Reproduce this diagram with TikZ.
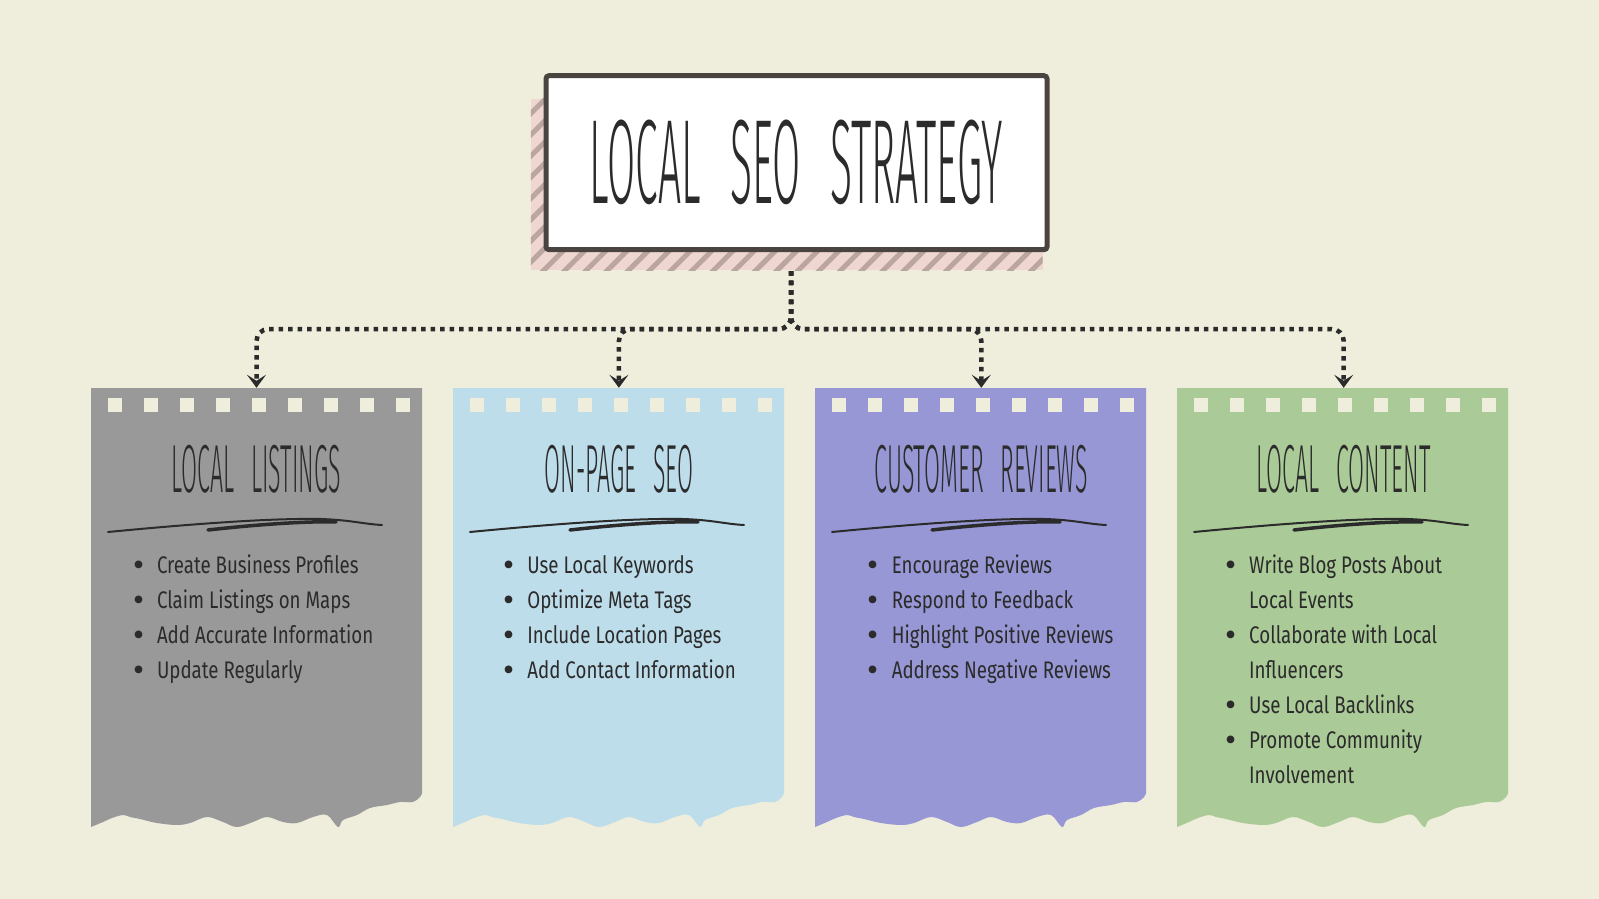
\documentclass[tikz,border=0pt]{standalone}
\usepackage{fontspec}
\setmainfont{Fira Sans}[FakeStretch=0.78]
\newfontfamily\headfont{Fira Sans}[UprightFont={* Light}, FakeStretch=0.34, WordSpace=2.6]
\newfontfamily\dotfont{Fira Sans}
\usepackage{tikz}
\usetikzlibrary{positioning, arrows.meta, patterns.meta}

\definecolor{paper}{HTML}{EFEDDB}
\definecolor{ink}{HTML}{2B2B2B}
\definecolor{frame}{HTML}{4A4440}
\definecolor{blush}{HTML}{EFD6D1}
\definecolor{stripe}{HTML}{BBA59F}
\definecolor{sheetgray}{HTML}{999999}
\definecolor{sheetblue}{HTML}{BEDDEB}
\definecolor{sheetviolet}{HTML}{9797D5}
\definecolor{sheetgreen}{HTML}{AACB98}

\pgfdeclarelayer{back}
\pgfsetlayers{back,main}

\tikzstyle{titlebox} = [rectangle, minimum width=501pt, minimum height=174pt, draw=frame, line width=5pt, fill=white, rounded corners=3pt, text=ink, font=\headfont\fontsize{120}{120}\selectfont]
\tikzstyle{sheet} = [rectangle, minimum width=331pt, minimum height=412pt, inner sep=0pt]
\tikzstyle{head} = [anchor=base, inner sep=0pt, text=ink, font=\headfont\fontsize{68}{68}\selectfont]
\tikzstyle{items} = [anchor=base west, inner sep=0pt, text=ink, font=\fontsize{24}{35}\selectfont]
\tikzstyle{link} = [line width=4.5pt, dash pattern=on 4.5pt off 5pt, rounded corners=12pt, color=ink, -{Stealth[length=13pt, width=19pt, inset=6pt]}]

% bullet line and continuation line
\newcommand{\itm}[1]{\makebox[24pt][l]{\raisebox{-3pt}{\dotfont\fontsize{34}{34}\selectfont\textbullet}}#1}
\newcommand{\cnt}[1]{\hspace*{24pt}#1}

% torn sheet with holes and underline, #1 = left edge, #2 = colour
\newcommand{\tornsheet}[2]{
  \begin{scope}[shift={(#1,0)}]
    \fill[#2] (0,388) -- (331,388) -- plot[smooth, tension=0.6] coordinates {(331,793) (329,797) (322,802) (309,802) (296,805) (279,808) (266,815) (252,820) (247,827) (236,815) (222,817) (206,823) (192,822) (176,817) (162,822) (146,827) (132,822) (116,817) (99,823) (86,825) (66,823) (49,819) (39,817) (32,815) (21,818) (12,822) (0,827)} -- cycle;
    \foreach \i in {0,...,8}
      \fill[paper] (17+\i*36,398) rectangle ++(14,14);
    \draw[ink, line width=2pt, line cap=round] (17,532) .. controls (100,524) and (180,518) .. (230,519) .. controls (260,520) and (272,524) .. (291,525);
    \draw[ink, line width=3.5pt, line cap=round] (117,530) .. controls (170,524) and (220,521) .. (245,522);
  \end{scope}
}

\begin{document}
\begin{tikzpicture}[x=1pt, y=-1pt]
	\node (title) [titlebox] at (796.5,162.7) {LOCAL SEO STRATEGY};
	\node (listings) [sheet] at (256.5,594) {};
	\node (onpage) [sheet, right=31pt of listings] {};
	\node (reviews) [sheet, right=31pt of onpage] {};
	\node (content) [sheet, right=31pt of reviews] {};

	\node (listings_title) [head] at ([yshift=-105pt]listings.north) {LOCAL LISTINGS};
	\node (onpage_title) [head] at ([yshift=-105pt]onpage.north) {ON-PAGE SEO};
	\node (reviews_title) [head] at ([yshift=-105pt]reviews.north) {CUSTOMER REVIEWS};
	\node (content_title) [head] at ([yshift=-105pt]content.north) {LOCAL CONTENT};

	\node (listings_list) [items] at ([xshift=42pt, yshift=-186pt]listings.north west) {\begin{tabular}[t]{@{}l@{}}
		\itm{Create Business Profiles}\\ \itm{Claim Listings on Maps}\\ \itm{Add Accurate Information}\\ \itm{Update Regularly}\end{tabular}};
	\node (onpage_list) [items] at ([xshift=50pt, yshift=-186pt]onpage.north west) {\begin{tabular}[t]{@{}l@{}}
		\itm{Use Local Keywords}\\ \itm{Optimize Meta Tags}\\ \itm{Include Location Pages}\\ \itm{Add Contact Information}\end{tabular}};
	\node (reviews_list) [items] at ([xshift=52pt, yshift=-186pt]reviews.north west) {\begin{tabular}[t]{@{}l@{}}
		\itm{Encourage Reviews}\\ \itm{Respond to Feedback}\\ \itm{Highlight Positive Reviews}\\ \itm{Address Negative Reviews}\end{tabular}};
	\node (content_list) [items] at ([xshift=47pt, yshift=-186pt]content.north west) {\begin{tabular}[t]{@{}l@{}}
		\itm{Write Blog Posts About}\\ \cnt{Local Events}\\ \itm{Collaborate with Local}\\ \cnt{Influencers}\\
		\itm{Use Local Backlinks}\\ \itm{Promote Community}\\ \cnt{Involvement}\end{tabular}};

	\begin{pgfonlayer}{back}
		\fill[paper] (0,0) rectangle (1599,899);
		\tornsheet{91}{sheetgray}
		\tornsheet{453}{sheetblue}
		\tornsheet{815}{sheetviolet}
		\tornsheet{1177}{sheetgreen}
		% dotted links from the title
		\coordinate (split) at (791,329);
		\draw [link] ([xshift=-5.5pt]title.south) -- (split) -| (listings.north);
		\draw [link] ([xshift=-5.5pt]title.south) -- (split) -| (onpage.north);
		\draw [link] ([xshift=-5.5pt]title.south) -- (split) -| (reviews.north);
		\draw [link] ([xshift=-5.5pt]title.south) -- (split) -| (content.north);
		% hatched shadow behind the title
		\fill[blush] ([xshift=-12.6pt, yshift=-25.6pt]title.north west) rectangle ([xshift=-7pt, yshift=-18pt]title.south east);
		\fill[pattern={Lines[angle=45, distance=15pt, line width=5pt]}, pattern color=stripe] ([xshift=-12.6pt, yshift=-25.6pt]title.north west) rectangle ([xshift=-7pt, yshift=-18pt]title.south east);
	\end{pgfonlayer}
\end{tikzpicture}
\end{document}
